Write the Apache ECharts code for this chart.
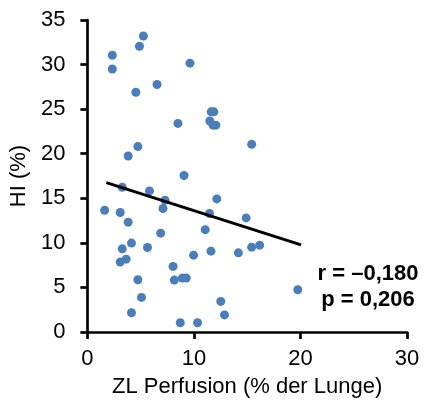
<!DOCTYPE html>
<html>
<head>
<meta charset="utf-8">
<script src="https://cdn.jsdelivr.net/npm/echarts@6/dist/echarts.min.js"></script>
<style>
html,body{margin:0;padding:0;background:#fff;}
#chart{width:425px;height:408px;}
</style>
</head>
<body>
<div id="chart"></div>
<script>
var perfusion = [5.26,4.89,2.34,2.34,9.63,6.54,4.55,11.62,11.87,11.5,11.8,12.06,8.5,15.42,4.74,3.83,9.07,3.27,5.83,7.29,12.15,1.62,3.08,7.1,11.46,14.9,3.83,6.88,11.06,4.14,3.27,5.64,11.6,14.17,15.42,16.17,9.97,3.64,3.08,8.04,4.74,8.16,8.91,9.28,19.75,5.08,12.52,4.14,12.87,8.72,10.34];
var hi = [33.2,32.06,31.05,29.5,30.16,27.77,26.9,24.7,24.7,23.67,23.2,23.2,23.4,21.05,20.8,19.74,17.55,16.24,15.83,14.78,14.93,13.66,13.4,13.85,13.29,12.8,12.32,11.09,11.48,9.97,9.33,9.48,9.07,8.88,9.52,9.74,8.62,8.17,7.84,7.36,5.86,5.82,6.05,6.05,4.74,3.88,3.43,2.16,1.92,1.04,1.04];
var trendX = [1.78, 20.06];
var trendY = [16.76, 9.78];
var statLines = ['r = \u20130,180', 'p = 0,206'];
var xName = 'ZL Perfusion (% der Lunge)';
var yName = 'HI (%)';

var points = perfusion.map(function(v,i){return [v, hi[i]];});
var trend = trendX.map(function(v,i){return [v, trendY[i]];});

var chart = echarts.init(document.getElementById('chart'), null, {renderer:'canvas'});
var font = 'Arial, "Liberation Sans", sans-serif';
var axisCommon = {
  axisLine:{show:true, onZero:false, lineStyle:{color:'#000', width:2.7}},
  axisTick:{show:true, inside:false, length:7, lineStyle:{color:'#000', width:2.7}},
  splitLine:{show:false},
  axisLabel:{color:'#000', fontSize:22, fontFamily:font},
  nameTextStyle:{color:'#000', fontSize:22, fontFamily:font}
};
chart.setOption({
  animation:false,
  backgroundColor:'#fff',
  grid:{left:86, top:20, width:321, height:312, containLabel:false},
  xAxis: Object.assign({}, axisCommon, {
    type:'value', min:0, max:30, interval:10,
    name:xName, nameLocation:'middle', nameGap:44,
    axisLabel:Object.assign({}, axisCommon.axisLabel, {margin:16})
  }),
  yAxis: Object.assign({}, axisCommon, {
    type:'value', min:0, max:35, interval:5,
    name:yName, nameLocation:'middle', nameGap:55, nameRotate:90,
    axisLabel:Object.assign({}, axisCommon.axisLabel, {margin:22})
  }),
  series:[
    {type:'scatter', data:points, symbolSize:9, itemStyle:{color:'#4a7ebb', opacity:1}, z:2},
    {type:'line', data:trend, showSymbol:false, symbol:'none', lineStyle:{color:'#000', width:3}, z:3}
  ],
  graphic:[
    {type:'text', x:368, y:274, style:{text:statLines[0], fill:'#000', font:'bold 22px ' + font, textAlign:'center', textVerticalAlign:'middle'}},
    {type:'text', x:368, y:300, style:{text:statLines[1], fill:'#000', font:'bold 22px ' + font, textAlign:'center', textVerticalAlign:'middle'}}
  ]
});
</script>
</body>
</html>
